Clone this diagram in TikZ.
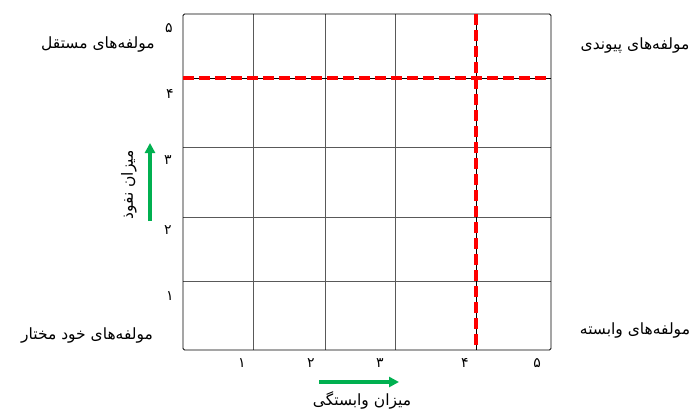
\documentclass[tikz,border=0pt]{standalone}
\usepackage{fontspec}
\newfontfamily\farsi[Script=Arabic]{DejaVu Sans}
\TeXXeTstate=1
\usepackage{xcolor}
\usetikzlibrary{arrows.meta,positioning}
\definecolor{trendgreen}{HTML}{00B050}

\begin{document}
\begin{tikzpicture}[x=1pt, y=-1pt,
  frame/.style={draw=black, line width=.8pt, rounded corners=1.5pt},
  cell/.style={draw=black!65, line width=.8pt},
  cut/.style={draw=red, line width=3.6pt, dash pattern=on 11pt off 5pt},
  tick/.style={font=\farsi\fontsize{14}{16}\selectfont, inner sep=1pt},
  zone/.style={font=\farsi\fontsize{15.5}{18}\selectfont, inner sep=1pt},
  trend/.style={-{Triangle[length=10pt, width=10pt]}, draw=trendgreen, line width=3.4pt}
]
\useasboundingbox (0,0) rectangle (700,412);
% grid
\coordinate (nw) at (183,14);
\coordinate (se) at (551,350);
\foreach \x in {253,325,395}{\draw[cell] (\x,14) -- (\x,350);}
\foreach \y in {147,217,281}{\draw[cell] (183,\y) -- (551,\y);}
\draw[black, line width=.8pt] (183,78) -- (551,78);
\draw[black, line width=.8pt] (476,14) -- (476,350);
\draw[frame] (nw) rectangle (se);
% cut-off lines
\draw[cut] (183,78) -- (551,78);
\draw[cut] (476,14) -- (476,350);
% axis numbers
\node[tick] (y5) at (169,28) {\beginR ۵\endR};
\node[tick] (y4) at (170,94) {\beginR ۴\endR};
\node[tick] (y3) at (168,160) {\beginR ۳\endR};
\node[tick] (y2) at (168,230) {\beginR ۲\endR};
\node[tick] (y1) at (170,296) {\beginR ۱\endR};
\node[tick] (x1) at (242,363) {\beginR ۱\endR};
\node[tick] (x2) at (311,363) {\beginR ۲\endR};
\node[tick] (x3) at (380,363) {\beginR ۳\endR};
\node[tick] (x4) at (465,363) {\beginR ۴\endR};
\node[tick] (x5) at (537,363) {\beginR ۵\endR};
% quadrants
\node[zone] (free) at (98,45) {\beginR مولفه‌های مستقل\endR};
\node[zone] (link) at (635,46) {\beginR مولفه‌های پیوندی\endR};
\node[zone] (auto) at (87,335) {\beginR مولفه‌های خود مختار\endR};
\node[zone] (dep) at (635,330) {\beginR مولفه‌های وابسته\endR};
% axes
\coordinate (up0) at (150,221);
\coordinate (up1) at (150,143);
\draw[trend] (up0) -- (up1);
\node[zone, rotate=90] (power) at (129,185) {\beginR میزان نفوذ\endR};
\coordinate (rt0) at (319,382);
\coordinate (rt1) at (399,382);
\draw[trend] (rt0) -- (rt1);
\node[zone] (depend) at (362,400) {\beginR میزان وابستگی\endR};
\end{tikzpicture}
\end{document}
